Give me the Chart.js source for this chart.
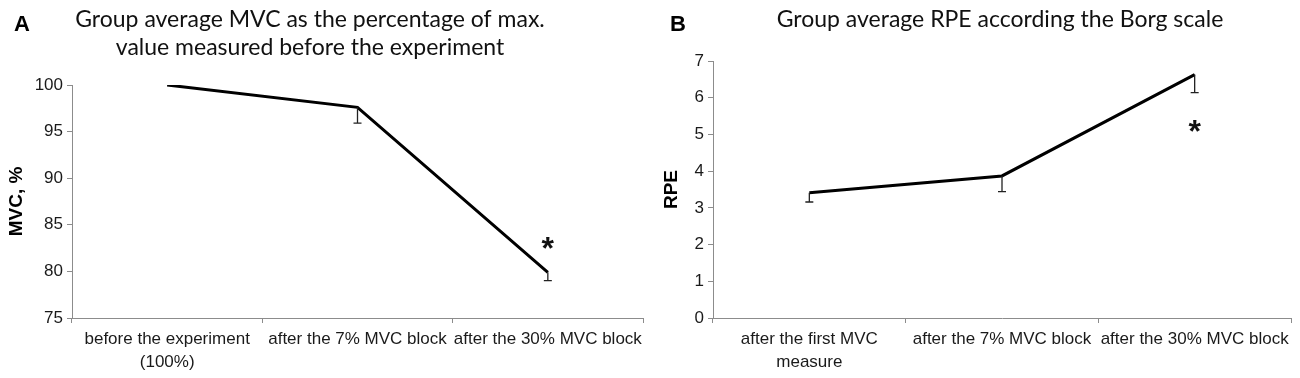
<!DOCTYPE html>
<html>
<head>
<meta charset="utf-8">
<script src="https://cdn.jsdelivr.net/npm/chart.js@4.4.1/dist/chart.umd.min.js"></script>
<style>
    body { margin: 0; background: #fff; }
    .panel { position: absolute; top: 0; width: 650px; height: 378px; }
</style>
</head>
<body>
<div class="panel" style="left:0"><canvas id="chartA" width="650" height="378"></canvas></div>
<div class="panel" style="left:650px"><canvas id="chartB" width="650" height="378"></canvas></div>
<script>
// panel A: MVC in % of the value before the experiment
const mvcLabels = [['before the experiment', '(100%)'], 'after the 7% MVC block', 'after the 30% MVC block'];
const mvcValues = [100, 97.6, 79.9];
const mvcErrors = [0, 1.7, 0.9];
const mvcStars = [null, null, 83.1];
const mvcTicks = [75, 80, 85, 90, 95, 100];

// panel B: RPE on the Borg scale
const rpeLabels = [['after the first MVC', 'measure'], 'after the 7% MVC block', 'after the 30% MVC block'];
const rpeValues = [3.41, 3.87, 6.63];
const rpeErrors = [0.25, 0.43, 0.49];
const rpeStars = [null, null, 5.23];
const rpeTicks = [0, 1, 2, 3, 4, 5, 6, 7];

const axisGray = '#8c8c8c';
const textColor = '#1a1a1a';

// error bars (downward only) and significance stars
const markersPlugin = {
    id: 'markers',
    afterDatasetsDraw(chart, args, opts) {
        const ctx = chart.ctx;
        const meta = chart.getDatasetMeta(0);
        const yScale = chart.scales.y;
        const values = chart.data.datasets[0].data;
        ctx.save();
        ctx.strokeStyle = '#222';
        ctx.lineWidth = 1.3;
        opts.errors.forEach((err, i) => {
            if (!err) return;
            let x = meta.data[i].x;
            let top = yScale.getPixelForValue(values[i]);
            let bottom = yScale.getPixelForValue(values[i] - err);
            ctx.beginPath();
            ctx.moveTo(x, top);
            ctx.lineTo(x, bottom);
            ctx.moveTo(x - 4, bottom);
            ctx.lineTo(x + 4, bottom);
            ctx.stroke();
        });
        ctx.fillStyle = '#111';
        ctx.font = 'bold 32px "Liberation Sans", Arial, sans-serif';
        ctx.textAlign = 'center';
        ctx.textBaseline = 'alphabetic';
        opts.stars.forEach((star, i) => {
            if (star === null) return;
            let x = meta.data[i].x;
            let y = yScale.getPixelForValue(star);
            let m = ctx.measureText('*');
            ctx.fillText('*', x, y - (m.actualBoundingBoxDescent - m.actualBoundingBoxAscent) / 2);
        });
        ctx.restore();
    }
};

// panel letter and the two-line heading above the plot
const headingPlugin = {
    id: 'heading',
    afterDraw(chart, args, opts) {
        const ctx = chart.ctx;
        ctx.save();
        ctx.fillStyle = '#000';
        ctx.textBaseline = 'alphabetic';
        ctx.textAlign = 'left';
        ctx.font = 'bold 22px "Liberation Sans", Arial, sans-serif';
        ctx.fillText(opts.letter, opts.letterX, 31);
        ctx.fillStyle = '#111';
        ctx.textAlign = 'center';
        ctx.font = '23px Lato, "Open Sans", sans-serif';
        opts.lines.forEach((line, i) => {
            ctx.fillText(line, opts.centerX, 27 + i * 28);
        });
        ctx.restore();
    }
};

function buildChart(canvasId, cfg) {
    return new Chart(document.getElementById(canvasId), {
        type: 'line',
        data: {
            labels: cfg.labels,
            datasets: [{
                data: cfg.values,
                borderColor: '#000',
                borderWidth: 3,
                pointRadius: 0,
                tension: 0,
                fill: false
            }]
        },
        plugins: [markersPlugin, headingPlugin],
        options: {
            responsive: false,
            animation: false,
            layout: {
                padding: { top: cfg.top, right: cfg.right, left: 0, bottom: 0 }
            },
            plugins: {
                legend: { display: false },
                tooltip: { enabled: false },
                markers: { errors: cfg.errors, stars: cfg.stars },
                heading: { letter: cfg.letter, letterX: cfg.letterX, lines: cfg.title, centerX: cfg.titleX }
            },
            scales: {
                x: {
                    offset: true,
                    grid: { offset: true, drawOnChartArea: false, tickLength: 5, color: axisGray },
                    border: { color: axisGray },
                    ticks: {
                        autoSkip: false,
                        maxRotation: 0,
                        padding: 5,
                        color: textColor,
                        font: { family: '"Liberation Sans", Arial, sans-serif', size: 17, lineHeight: 1.35 }
                    },
                    afterFit: (scale) => { scale.height = 60; }
                },
                y: {
                    min: cfg.ticks[0],
                    max: cfg.ticks[cfg.ticks.length - 1],
                    grid: { drawOnChartArea: false, tickLength: 5, color: axisGray },
                    border: { color: axisGray },
                    ticks: {
                        stepSize: cfg.ticks[1] - cfg.ticks[0],
                        padding: 4,
                        color: textColor,
                        font: { family: '"Liberation Sans", Arial, sans-serif', size: 17 }
                    },
                    title: {
                        display: true,
                        text: cfg.yTitle,
                        color: '#000',
                        padding: { top: cfg.yTitlePad, bottom: 0 },
                        font: { family: '"Liberation Sans", Arial, sans-serif', size: 19, weight: 'bold' }
                    },
                    afterFit: (scale) => { scale.width = cfg.axisWidth; }
                }
            }
        }
    });
}

buildChart('chartA', {
    labels: mvcLabels,
    values: mvcValues,
    errors: mvcErrors,
    stars: mvcStars,
    ticks: mvcTicks,
    yTitle: 'MVC, %',
    yTitlePad: 5.6,
    axisWidth: 72,
    top: 85,
    right: 7,
    letter: 'A',
    letterX: 14,
    title: ['Group average MVC as the percentage of max.', 'value measured before the experiment'],
    titleX: 310
});

buildChart('chartB', {
    labels: rpeLabels,
    values: rpeValues,
    errors: rpeErrors,
    stars: rpeStars,
    ticks: rpeTicks,
    yTitle: 'RPE',
    yTitlePad: 10.6,
    axisWidth: 63,
    top: 61,
    right: 9,
    letter: 'B',
    letterX: 20,
    title: ['Group average RPE according the Borg scale'],
    titleX: 350
});
</script>
</body>
</html>
